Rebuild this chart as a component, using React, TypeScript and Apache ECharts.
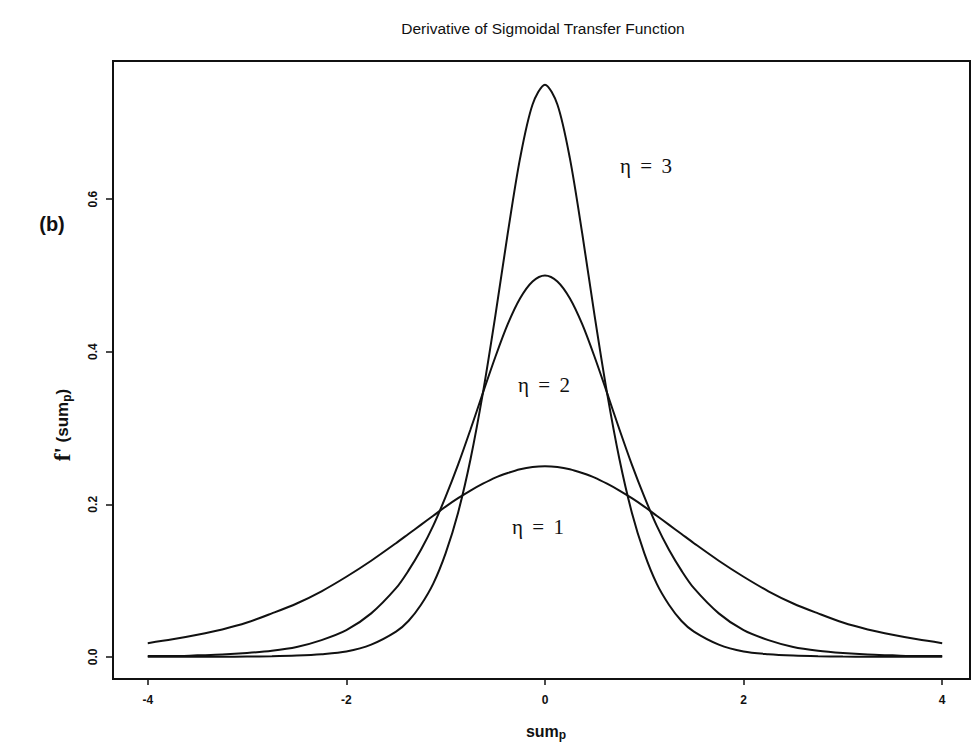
import React, { useEffect, useRef } from "react";
import * as echarts from "echarts";

const xValues = [
  -4, -3.75, -3.5, -3.25, -3, -2.75, -2.5, -2.25, -2, -1.75, -1.5,
  -1.375, -1.25, -1.125, -1, -0.875, -0.75, -0.625, -0.5, -0.375, -0.25, -0.125,
  0,
  0.125, 0.25, 0.375, 0.5, 0.625, 0.75, 0.875, 1, 1.125, 1.25, 1.375,
  1.5, 1.75, 2, 2.25, 2.5, 2.75, 3, 3.25, 3.5, 3.75, 4,
];

// right half (x >= 0); left half mirrors it
const eta1Half = [
  0.25, 0.249, 0.246, 0.241, 0.235, 0.227, 0.218, 0.208, 0.197, 0.185, 0.173, 0.161,
  0.149, 0.126, 0.105, 0.086, 0.070, 0.057, 0.045, 0.036, 0.029, 0.023, 0.018,
];
const eta2Half = [
  0.5, 0.492, 0.470, 0.436, 0.393, 0.346, 0.298, 0.252, 0.210, 0.172, 0.140, 0.113,
  0.090, 0.057, 0.035, 0.022, 0.013, 0.008, 0.005, 0.003, 0.002, 0.001, 0.001,
];
const eta3Half = [
  0.75, 0.724, 0.654, 0.555, 0.447, 0.346, 0.259, 0.189, 0.136, 0.096, 0.068, 0.047,
  0.033, 0.016, 0.007, 0.0035, 0.0017, 0.0008, 0.0004, 0.0002, 0.0001, 0.0, 0.0,
];

const xTicks = [-4, -2, 0, 2, 4];
const yTicks = [0, 0.2, 0.4, 0.6];
const curveGains = ["3", "2", "1"];

function mirror(half: number[]): number[] {
  const left = half.slice(1).reverse();
  return left.concat(half);
}

export default function App() {
  const ref = useRef<HTMLDivElement>(null);
  useEffect(() => {
    if (!ref.current) return;
    const chart = echarts.init(ref.current, undefined, { renderer: "svg" });
    const mk = (vals: number[]) => xValues.map((x, i) => [x, vals[i]]);
    const series = [eta1Half, eta2Half, eta3Half].map((h) => ({
      type: "line",
      data: mk(mirror(h)),
      smooth: 0.3,
      showSymbol: false,
      lineStyle: { color: "#111", width: 2 },
      silent: true,
    }));
    const serifLabel = (gain: string, x: number, y: number) => ({
      type: "text",
      x,
      y,
      style: {
        text: "{e|η} {q|=} {n|" + gain + "}",
        font: "21px 'Liberation Serif'",
        fill: "#111",
        align: "center",
        verticalAlign: "middle",
        rich: {
          e: { font: "21px 'Liberation Serif'", fill: "#111" },
          q: { font: "21px 'Liberation Serif'", fill: "#111", padding: [0, 4, 0, 4] },
          n: { font: "21px 'Liberation Serif'", fill: "#111" },
        },
      },
    });
    chart.setOption({
      animation: false,
      backgroundColor: "#fff",
      title: {
        text: "Derivative of Sigmoidal Transfer Function",
        left: 538,
        top: 15,
        textAlign: "center",
        textStyle: {
          fontFamily: "Liberation Sans",
          fontSize: 15.5,
          fontWeight: "normal",
          color: "#111",
        },
      },
      grid: {
        left: 113,
        right: 1,
        top: 61,
        bottom: 71,
        show: true,
        borderColor: "#111",
        borderWidth: 2,
        backgroundColor: "transparent",
      },
      xAxis: {
        type: "value",
        min: -4.35,
        max: 4.28,
        axisLine: { show: true, onZero: false, lineStyle: { color: "#111", width: 2 } },
        axisTick: {
          show: true,
          length: 6,
          lineStyle: { color: "#111", width: 1.5 },
          customValues: xTicks,
        },
        axisLabel: {
          customValues: xTicks,
          margin: 15,
          fontFamily: "Liberation Sans",
          fontWeight: "bold",
          fontSize: 12,
          color: "#111",
        },
        splitLine: { show: false },
      },
      yAxis: {
        type: "value",
        min: -0.029,
        max: 0.781,
        axisLine: { show: true, onZero: false, lineStyle: { color: "#111", width: 2 } },
        axisTick: {
          show: true,
          length: 7,
          lineStyle: { color: "#111", width: 1.5 },
          customValues: yTicks,
        },
        axisLabel: {
          customValues: yTicks,
          rotate: 90,
          margin: 14,
          fontFamily: "Liberation Sans",
          fontWeight: "bold",
          fontSize: 12,
          color: "#111",
          formatter: (v: number) => v.toFixed(1),
        },
        splitLine: { show: false },
      },
      graphic: [
        serifLabel(curveGains[0], 646, 166),
        serifLabel(curveGains[1], 544, 385),
        serifLabel(curveGains[2], 538, 527),
        {
          type: "text",
          x: 52,
          y: 224,
          style: {
            text: "(b)",
            font: "bold 20px 'Liberation Sans'",
            fill: "#111",
            align: "center",
            verticalAlign: "middle",
          },
        },
        {
          type: "text",
          x: 546,
          y: 731,
          style: {
            text: "{m|sum}{s|p}",
            align: "center",
            verticalAlign: "middle",
            rich: {
              m: { font: "bold 16px 'Liberation Sans'", fill: "#111" },
              s: { font: "bold 12px 'Liberation Sans'", fill: "#111", padding: [8, 0, 0, 0] },
            },
          },
        },
        {
          type: "text",
          x: 62,
          y: 425,
          rotation: Math.PI / 2,
          style: {
            text: "{f|f'}{m| (sum}{s|p}{m|)}",
            align: "center",
            verticalAlign: "middle",
            rich: {
              f: { font: "bold 23px 'Liberation Serif'", fill: "#111" },
              m: { font: "bold 17px 'Liberation Sans'", fill: "#111" },
              s: { font: "bold 12px 'Liberation Sans'", fill: "#111", padding: [9, 0, 0, 0] },
            },
          },
        },
      ],
      series,
    });
    return () => chart.dispose();
  }, []);
  return (
    <div
      ref={ref}
      style={{ position: "absolute", left: 0, top: 0, width: 971, height: 750 }}
    />
  );
}
